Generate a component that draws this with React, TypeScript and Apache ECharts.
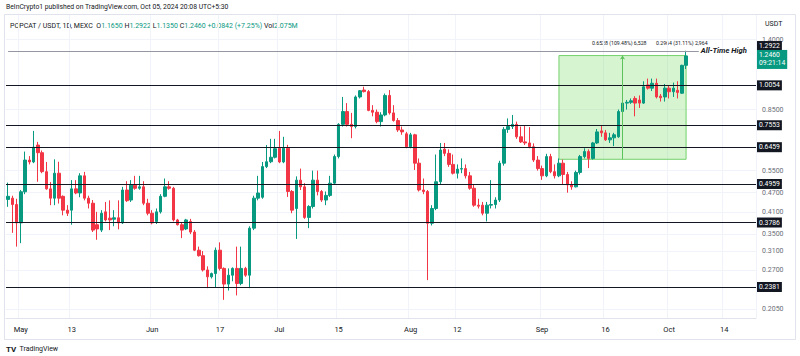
import React, { useEffect, useRef } from 'react';
import * as echarts from 'echarts';

// ---- data ----
const START_DATE = '2024-04-28';
const DAY_COUNT = 177; // category slots on the time axis (data + right margin)

const OPEN = [
  0.448, 0.452, 0.432, 0.379, 0.473, 0.593, 0.585, 0.66, 0.625, 0.546,
  0.483, 0.452, 0.54, 0.458, 0.415, 0.415, 0.483, 0.469, 0.53, 0.452,
  0.436, 0.374, 0.36, 0.41, 0.392, 0.389, 0.393, 0.379, 0.479, 0.446,
  0.496, 0.485, 0.49, 0.436, 0.406, 0.383, 0.41, 0.458, 0.49, 0.485,
  0.387, 0.374, 0.363, 0.383, 0.355, 0.312, 0.30, 0.271, 0.258, 0.264,
  0.312, 0.274, 0.245, 0.261, 0.274, 0.246, 0.274, 0.261, 0.365, 0.452,
  0.455, 0.566, 0.586, 0.605, 0.645, 0.585, 0.645, 0.474, 0.42, 0.514,
  0.49, 0.394, 0.426, 0.514, 0.474, 0.446, 0.461, 0.503, 0.608, 0.765,
  0.838, 0.765, 0.753, 0.93, 0.977, 0.966, 0.845, 0.834, 0.78, 0.818,
  0.94, 0.83, 0.786, 0.735, 0.715, 0.652, 0.71, 0.58, 0.479, 0.474,
  0.378, 0.42, 0.508, 0.641, 0.622, 0.575, 0.54, 0.556, 0.558, 0.53,
  0.485, 0.43, 0.43, 0.406, 0.43, 0.432, 0.446, 0.58, 0.738, 0.753,
  0.765, 0.70, 0.675, 0.67, 0.652, 0.593, 0.558, 0.53, 0.608, 0.546,
  0.53, 0.58, 0.535, 0.497, 0.49, 0.543, 0.608, 0.63, 0.60, 0.67,
  0.73, 0.72, 0.685, 0.695, 0.70, 0.838, 0.89, 0.895, 0.92, 0.91,
  0.89, 1.013, 0.99, 1.025, 0.935, 0.93, 0.99, 0.965, 0.975, 0.955,
  1.165,
];
const HIGH = [
  0.505, 0.46, 0.45, 0.479, 0.63, 0.61, 0.73, 0.675, 0.635, 0.585,
  0.507, 0.596, 0.586, 0.461, 0.43, 0.514, 0.514, 0.54, 0.545, 0.46,
  0.446, 0.41, 0.415, 0.44, 0.445, 0.415, 0.445, 0.49, 0.51, 0.514,
  0.53, 0.53, 0.51, 0.45, 0.415, 0.42, 0.465, 0.52, 0.51, 0.49,
  0.39, 0.38, 0.39, 0.39, 0.36, 0.32, 0.31, 0.278, 0.266, 0.318,
  0.33, 0.276, 0.274, 0.276, 0.32, 0.32, 0.277, 0.37, 0.46, 0.53,
  0.585, 0.66, 0.69, 0.69, 0.73, 0.70, 0.661, 0.479, 0.528, 0.558,
  0.503, 0.43, 0.55, 0.55, 0.479, 0.474, 0.53, 0.617, 0.771, 0.93,
  0.89, 0.83, 0.94, 0.977, 1.0, 0.977, 0.877, 0.85, 0.834, 0.953,
  0.977, 0.877, 0.80, 0.753, 0.725, 0.72, 0.715, 0.60, 0.52, 0.479,
  0.43, 0.617, 0.67, 0.67, 0.64, 0.617, 0.575, 0.60, 0.575, 0.545,
  0.50, 0.45, 0.44, 0.44, 0.514, 0.455, 0.59, 0.75, 0.798, 0.818,
  0.78, 0.753, 0.76, 0.75, 0.668, 0.61, 0.57, 0.62, 0.62, 0.575,
  0.60, 0.595, 0.545, 0.51, 0.55, 0.615, 0.645, 0.64, 0.675, 0.74,
  0.76, 0.735, 0.72, 0.72, 0.85, 0.90, 0.91, 0.92, 0.935, 0.94,
  1.04, 1.06, 1.06, 1.06, 0.95, 1.02, 1.01, 1.03, 1.04, 1.17,
  1.2922,
];
const LOW = [
  0.425, 0.353, 0.32, 0.328, 0.465, 0.575, 0.58, 0.508, 0.54, 0.48,
  0.43, 0.43, 0.435, 0.40, 0.398, 0.374, 0.465, 0.455, 0.445, 0.42,
  0.355, 0.336, 0.355, 0.383, 0.36, 0.37, 0.362, 0.376, 0.44, 0.44,
  0.48, 0.48, 0.43, 0.40, 0.375, 0.376, 0.405, 0.455, 0.48, 0.383,
  0.372, 0.34, 0.36, 0.35, 0.31, 0.298, 0.268, 0.238, 0.255, 0.24,
  0.27, 0.219, 0.234, 0.25, 0.226, 0.243, 0.258, 0.238, 0.36, 0.445,
  0.45, 0.56, 0.58, 0.60, 0.58, 0.58, 0.456, 0.406, 0.338, 0.479,
  0.39, 0.365, 0.42, 0.461, 0.44, 0.43, 0.456, 0.50, 0.60, 0.753,
  0.753, 0.693, 0.743, 0.92, 0.96, 0.84, 0.81, 0.771, 0.753, 0.81,
  0.82, 0.78, 0.725, 0.71, 0.645, 0.645, 0.5525, 0.474, 0.465, 0.252,
  0.372, 0.415, 0.50, 0.61, 0.565, 0.535, 0.52, 0.54, 0.52, 0.48,
  0.425, 0.42, 0.40, 0.383, 0.42, 0.42, 0.44, 0.57, 0.72, 0.74,
  0.69, 0.67, 0.66, 0.645, 0.585, 0.55, 0.515, 0.525, 0.54, 0.52,
  0.525, 0.50, 0.47, 0.48, 0.488, 0.535, 0.60, 0.56, 0.595, 0.665,
  0.70, 0.68, 0.67, 0.655, 0.695, 0.83, 0.85, 0.885, 0.81, 0.86,
  0.885, 0.98, 0.97, 0.92, 0.90, 0.90, 0.92, 0.93, 0.92, 0.95,
  1.135,
];
const CLOSE = [
  0.458, 0.432, 0.379, 0.473, 0.593, 0.585, 0.65, 0.625, 0.546, 0.483,
  0.452, 0.54, 0.452, 0.415, 0.406, 0.483, 0.469, 0.53, 0.452, 0.436,
  0.36, 0.363, 0.406, 0.387, 0.387, 0.393, 0.379, 0.479, 0.444, 0.496,
  0.485, 0.49, 0.436, 0.406, 0.379, 0.41, 0.458, 0.49, 0.485, 0.387,
  0.374, 0.36, 0.387, 0.355, 0.312, 0.30, 0.271, 0.258, 0.264, 0.312,
  0.274, 0.245, 0.261, 0.274, 0.246, 0.274, 0.261, 0.365, 0.452, 0.469,
  0.566, 0.586, 0.605, 0.643, 0.585, 0.645, 0.474, 0.415, 0.514, 0.49,
  0.394, 0.426, 0.514, 0.474, 0.446, 0.461, 0.503, 0.608, 0.765, 0.838,
  0.765, 0.753, 0.93, 0.972, 0.966, 0.845, 0.834, 0.78, 0.818, 0.94,
  0.83, 0.786, 0.735, 0.725, 0.652, 0.71, 0.58, 0.479, 0.474, 0.378,
  0.42, 0.508, 0.637, 0.622, 0.575, 0.54, 0.556, 0.558, 0.53, 0.485,
  0.43, 0.427, 0.406, 0.43, 0.432, 0.446, 0.58, 0.738, 0.753, 0.765,
  0.70, 0.675, 0.67, 0.652, 0.593, 0.558, 0.53, 0.608, 0.546, 0.53,
  0.58, 0.535, 0.497, 0.49, 0.543, 0.608, 0.63, 0.60, 0.67, 0.725,
  0.72, 0.685, 0.695, 0.71, 0.838, 0.89, 0.895, 0.905, 0.89, 0.89,
  1.0, 0.99, 1.025, 0.93, 0.925, 0.99, 0.965, 0.99, 0.96, 1.165,
  1.246,
];

const LEVELS = [1.0054, 0.7553, 0.6459, 0.4959, 0.3786, 0.2381];
const ATH = 1.2922;
const ATH_LINE_END = '2024-10-08';
const LAST_PRICE = 1.246;
const COUNTDOWN = '09:21:14';
const PRICE_TICKS = [1.4, 0.85, 0.55, 0.47, 0.41, 0.35, 0.31, 0.27, 0.205];
const DATE_TICKS = [
  '2024-05-01', '2024-05-13', '2024-06-01', '2024-06-17', '2024-07-01', '2024-07-15',
  '2024-08-01', '2024-08-12', '2024-09-01', '2024-09-16', '2024-10-01', '2024-10-14',
];
const RANGE_START = '2024-09-05';
const RANGE_MID = '2024-09-20';
const RANGE_END = '2024-10-05';
const RANGE_LOW = 0.5963;
const RANGE_HIGH = 1.2491;
const Y_MIN = 0.1924;
const Y_MAX = 1.6677;

const MONTHS = ['Jan', 'Feb', 'Mar', 'Apr', 'May', 'Jun', 'Jul', 'Aug', 'Sep', 'Oct', 'Nov', 'Dec'];

const DATES: string[] = (() => {
  const [y, m, d] = START_DATE.split('-').map(Number);
  return Array.from({ length: DAY_COUNT }, (_, i) =>
    new Date(Date.UTC(y, m - 1, d + i)).toISOString().slice(0, 10)
  );
})();

const CANDLES = OPEN.map((o, i) => [o, CLOSE[i], LOW[i], HIGH[i]]);

const UP = '#089981';
const DOWN = '#f23645';
const INK = '#131722';
const FONT = 'Roboto, "Noto Sans", sans-serif';

function buildOption(): any {
  const boxLabel = (text: string) => ({
    show: true,
    position: 'end',
    distance: 1,
    formatter: text,
    color: '#ffffff',
    backgroundColor: INK,
    padding: [2, 2, 1, 2],
    fontSize: 6.8,
    fontFamily: FONT,
  });
  const levelLines = LEVELS.map((v) => ({
    yAxis: v,
    lineStyle: { color: INK, width: 1, type: 'solid' },
    label: boxLabel(v.toFixed(4)),
  }));
  const hidden = { color: 'rgba(0,0,0,0)', width: 1, type: 'solid' };

  return {
    animation: false,
    backgroundColor: '#ffffff',
    textStyle: { fontFamily: FONT },
    grid: { left: 6, right: 44, top: 15, bottom: 38, containLabel: false },
    xAxis: {
      type: 'category',
      data: DATES,
      boundaryGap: true,
      axisLine: { show: true, lineStyle: { color: '#e0e3eb' } },
      axisTick: { show: false },
      axisLabel: {
        interval: (_: number, v: string) => DATE_TICKS.includes(v),
        formatter: (v: string) => {
          const day = Number(v.slice(8, 10));
          return day === 1 ? MONTHS[Number(v.slice(5, 7)) - 1] : String(day);
        },
        color: INK,
        fontSize: 7.5,
        margin: 7,
        fontFamily: FONT,
      },
      splitLine: {
        show: true,
        interval: (_: number, v: string) => DATE_TICKS.includes(v),
        lineStyle: { color: '#f0f3fa', width: 1 },
      },
    },
    yAxis: {
      type: 'log',
      logBase: 10,
      position: 'right',
      min: Y_MIN,
      max: Y_MAX,
      axisLine: { show: false },
      axisTick: { show: false, customValues: PRICE_TICKS },
      axisLabel: {
        customValues: PRICE_TICKS,
        formatter: (v: number) => Number(v).toFixed(4),
        color: '#6a6d78',
        fontSize: 7,
        margin: 6,
        fontFamily: FONT,
      },
      splitLine: { show: true, lineStyle: { color: '#f0f3fa', width: 1 } },
    },
    series: [
      {
        type: 'candlestick',
        data: CANDLES,
        barWidth: 3,
        itemStyle: {
          color: UP,
          color0: DOWN,
          borderColor: UP,
          borderColor0: DOWN,
          borderWidth: 1,
        },
        markArea: {
          silent: true,
          itemStyle: { color: 'rgba(96, 214, 74, 0.26)', borderColor: '#74d26c', borderWidth: 1 },
          data: [[{ coord: [RANGE_START, RANGE_LOW] }, { coord: [RANGE_END, RANGE_HIGH] }]],
        },
        markLine: {
          silent: true,
          symbol: 'none',
          animation: false,
          data: [
            ...levelLines,
            [
              {
                coord: [DATES[0], ATH],
                lineStyle: { color: '#9598a1', width: 1, type: 'solid' },
                label: {
                  show: true,
                  position: 'end',
                  distance: 2,
                  formatter: 'All-Time High',
                  color: INK,
                  fontSize: 7.6,
                  fontStyle: 'italic',
                  fontWeight: 'bold',
                  fontFamily: FONT,
                },
              },
              { coord: [ATH_LINE_END, ATH] },
            ],
            {
              yAxis: ATH,
              lineStyle: hidden,
              label: { ...boxLabel(ATH.toFixed(4)), offset: [0, -5] },
            },
            {
              yAxis: LAST_PRICE,
              lineStyle: hidden,
              label: {
                ...boxLabel(`${LAST_PRICE.toFixed(4)}\n${COUNTDOWN}`),
                backgroundColor: UP,
                lineHeight: 8,
                padding: [2, 2, 1, 2],
                offset: [0, 4],
              },
            },
            [
              {
                coord: [RANGE_MID, RANGE_LOW],
                symbol: 'none',
                lineStyle: { color: '#5cc25c', width: 1, type: 'solid' },
                label: { show: false },
              },
              { coord: [RANGE_MID, RANGE_HIGH], symbol: 'arrow', symbolSize: [4, 4] },
            ],
          ],
        },
      },
    ],
    graphic: [
      {
        type: 'rect',
        silent: true,
        shape: { x: 4.5, y: 14.5, width: 791, height: 325 },
        style: { fill: 'none', stroke: '#e0e3eb', lineWidth: 1 },
        z: -1,
      },
      {
        type: 'text',
        left: 6,
        top: 3,
        style: {
          text: 'BeInCrypto1 published on TradingView.com, Oct 05, 2024 20:08 UTC+5:30',
          fill: INK,
          fontSize: 6.8,
          fontFamily: FONT,
        },
      },
      {
        type: 'text',
        left: 10,
        top: 22,
        style: {
          text:
            '{d|POPCAT / USDT, 1D, MEXC}  {d|O}{g|1.1650} {d|H}{g|1.2922} {d|L}{g|1.1350} {d|C}{g|1.2460} {g|+0.0842 (+7.25%)} {d|Vol}{g|2.075M}',
          fontSize: 7,
          fontFamily: FONT,
          fill: INK,
          rich: {
            d: { fill: INK, fontSize: 7, fontFamily: FONT },
            g: { fill: UP, fontSize: 7, fontFamily: FONT },
          },
        },
      },
      {
        type: 'text',
        left: 765,
        top: 20,
        style: { text: 'USDT', fill: INK, fontSize: 7, fontFamily: FONT },
      },
      {
        type: 'text',
        left: 592,
        top: 40,
        style: { text: '0.6528 (109.48%) 6,528', fill: INK, fontSize: 5.2, fontFamily: FONT },
      },
      {
        type: 'text',
        left: 656,
        top: 40,
        style: { text: '0.2964 (31.11%) 2,964', fill: INK, fontSize: 5.2, fontFamily: FONT },
      },
      {
        type: 'text',
        left: 6,
        top: 343,
        style: {
          text: '{b|TV} {n|TradingView}',
          rich: {
            b: { fill: INK, fontSize: 8, fontWeight: 'bold', fontFamily: FONT },
            n: { fill: INK, fontSize: 7, fontFamily: FONT },
          },
        },
      },
    ],
  };
}

export default function App() {
  const ref = useRef<HTMLDivElement>(null);
  useEffect(() => {
    if (!ref.current) return;
    const chart = echarts.init(ref.current, null, { renderer: 'svg' });
    chart.setOption(buildOption());
    return () => chart.dispose();
  }, []);
  return (
    <div style={{ position: 'fixed', left: 0, top: 0, width: 800, height: 356, background: '#fff' }}>
      <div ref={ref} style={{ width: 800, height: 356 }} />
    </div>
  );
}
